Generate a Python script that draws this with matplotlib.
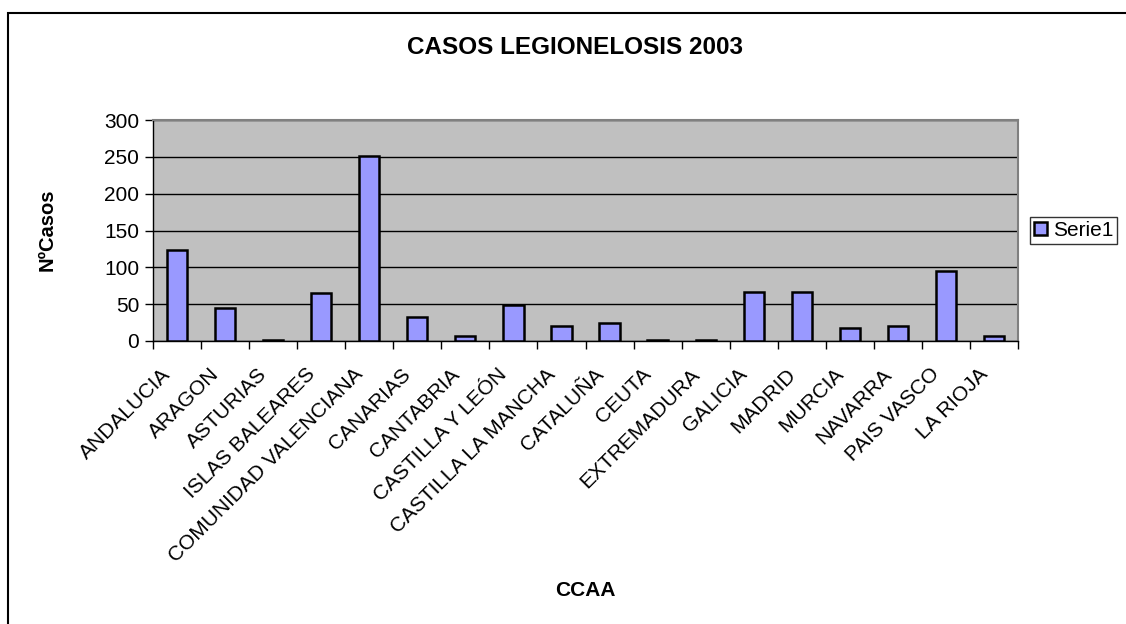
import matplotlib.pyplot as plt
from matplotlib.patches import Rectangle
from matplotlib.transforms import ScaledTranslation
import numpy as np

plt.rcParams['font.family'] = ['Liberation Sans', 'DejaVu Sans']

regiones = ['ANDALUCIA', 'ARAGON', 'ASTURIAS', 'ISLAS BALEARES',
            'COMUNIDAD VALENCIANA', 'CANARIAS', 'CANTABRIA', 'CASTILLA Y LEÓN',
            'CASTILLA LA MANCHA', 'CATALUÑA', 'CEUTA', 'EXTREMADURA',
            'GALICIA', 'MADRID', 'MURCIA', 'NAVARRA', 'PAIS VASCO', 'LA RIOJA']
casos = [124, 45, 1, 65, 251, 32, 7, 49, 20, 24, 1, 2, 66, 67, 18, 21, 95, 7]
yticks = [0, 50, 100, 150, 200, 250, 300]

fig = plt.figure(figsize=(11.26, 6.24), dpi=100)
fig.patch.set_facecolor('white')

# outer chart frame (cropped on the right and bottom)
fig.add_artist(Rectangle((8 / 1126, -0.1), 1.2, (624 - 13) / 624 + 0.1,
                         transform=fig.transFigure, fill=False,
                         edgecolor='black', lw=1.5))

ax = fig.add_axes([153 / 1126, (624 - 341) / 624, 865 / 1126, 221 / 624])
ax.set_facecolor('#c0c0c0')

x = np.arange(len(regiones))
ax.bar(x, casos, width=0.42, color='#9999ff', edgecolor='black',
       linewidth=1.8, zorder=3, label='Serie1')

ax.set_xlim(-0.5, len(regiones) - 0.5)
ax.set_ylim(0, 300)
ax.set_yticks(yticks)
ax.yaxis.grid(True, color='black', lw=1)
ax.set_axisbelow(True)

ax.set_xticks(x)
ax.set_xticklabels(regiones, rotation=45, ha='right', rotation_mode='anchor',
                   fontsize=15)
ax.set_xticks(np.arange(len(regiones) + 1) - 0.5, minor=True)
ax.tick_params(axis='x', which='major', length=0, pad=17)
ax.tick_params(axis='x', which='minor', length=6, direction='out', width=1)
ax.tick_params(axis='y', length=6, width=1, labelsize=15, pad=4)
shift = ScaledTranslation(-0.16, 0, fig.dpi_scale_trans)
for lab in ax.get_xticklabels():
    lab.set_transform(lab.get_transform() + shift)

for s in ['top', 'right']:
    ax.spines[s].set_color('#808080')
    ax.spines[s].set_linewidth(1.5)
for s in ['left', 'bottom']:
    ax.spines[s].set_color('black')
    ax.spines[s].set_linewidth(1)

fig.text(575 / 1126, 1 - 47 / 624, 'CASOS LEGIONELOSIS 2003', ha='center',
         va='center', fontsize=17.5, fontweight='bold')
fig.text(47 / 1126, 1 - 230 / 624, 'NºCasos', ha='center', va='center',
         rotation=90, fontsize=14.5, fontweight='bold')
fig.text(585 / 1126, 1 - 591 / 624, 'CCAA', ha='center', va='center',
         fontsize=15, fontweight='bold')

ax.legend(loc='center left', bbox_to_anchor=((1030 - 153) / 865, 0.5),
          frameon=True, fancybox=False, edgecolor='black', fontsize=15,
          handlelength=0.6, handleheight=0.6, handletextpad=0.3,
          borderpad=0.2, borderaxespad=0)

fig.savefig('out.png', dpi=100)
